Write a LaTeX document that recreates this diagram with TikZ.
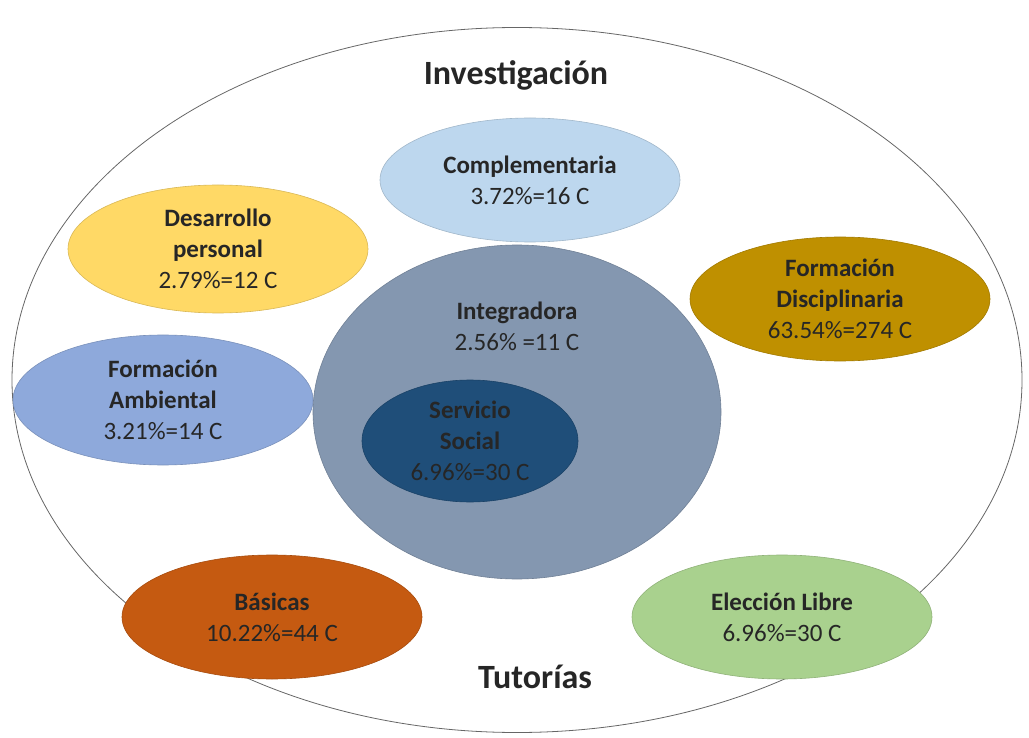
\documentclass[tikz,border=0pt]{standalone}
\usepackage{fontspec}
\setmainfont{Carlito}
\usepackage{xcolor}
\usetikzlibrary{shapes.geometric,positioning}

\definecolor{cComp}{HTML}{BDD7EE}
\definecolor{cDesa}{HTML}{FFD966}
\definecolor{cDisc}{HTML}{BF9000}
\definecolor{cInte}{HTML}{8497B0}
\definecolor{cServ}{HTML}{1F4E79}
\definecolor{cAmbi}{HTML}{8EA9DB}
\definecolor{cBasi}{HTML}{C55A11}
\definecolor{cElec}{HTML}{A9D18E}

\begin{document}
\begin{tikzpicture}[x=1pt,y=-1pt,
    area/.style={ellipse, inner sep=0pt, align=center, draw=#1!85!black, line width=0.6pt, fill=#1,
        text=black!85, font=\fontsize{25}{31}\selectfont},
    title/.style={font=\bfseries\fontsize{34}{40}\selectfont, text=black!85}]
    \useasboundingbox (0,0) rectangle (1029,738);

    % outer frame
    \node[ellipse, draw=black!60, line width=0.8pt, minimum width=1010, minimum height=705] (mundo) at (517,380) {};
    \node[title] (inv) at (516,75) {Investigación};
    \node[title] (tut) at (535,677) {Tutorías};

    % centre
    \node[area=cInte, minimum width=408, minimum height=334] (inte) at (517,412) {};
    \node[font=\fontsize{25}{31}\selectfont, text=black!85, align=center] (inteT) at (517,326) {\textbf{Integradora}\\2.56\% =11 C};
    \node[area=cServ, minimum width=216, minimum height=122] (serv) at (470,441) {\textbf{Servicio}\\\textbf{Social}\\6.96\%=30 C};

    % surrounding areas
    \node[area=cComp, minimum width=300, minimum height=124] (comp) at (530,180) {\textbf{Complementaria}\\3.72\%=16 C};
    \node[area=cDesa, minimum width=300, minimum height=128] (desa) at (218,249) {\textbf{Desarrollo}\\\textbf{personal}\\2.79\%=12 C};
    \node[area=cDisc, minimum width=300, minimum height=124] (disc) at (840,299) {\textbf{Formación}\\\textbf{Disciplinaria}\\63.54\%=274 C};
    \node[area=cAmbi, minimum width=300, minimum height=130] (ambi) at (163,400) {\textbf{Formación}\\\textbf{Ambiental}\\3.21\%=14 C};
    \node[area=cBasi, minimum width=300, minimum height=124] (basi) at (272,617) {\textbf{Básicas}\\10.22\%=44 C};
    \node[area=cElec, minimum width=300, minimum height=124] (elec) at (782,617) {\textbf{Elección Libre}\\6.96\%=30 C};
\end{tikzpicture}
\end{document}
